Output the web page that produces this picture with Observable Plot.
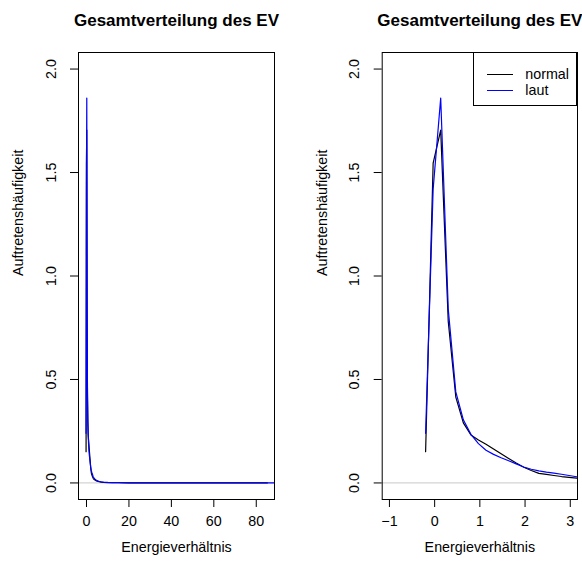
<!DOCTYPE html>
<html>
<head>
<meta charset="utf-8">
<script src="https://cdn.jsdelivr.net/npm/d3@7"></script>
<script src="https://cdn.jsdelivr.net/npm/@observablehq/plot@0.6"></script>
<style>
  body { margin: 0; background: #fff; }
  #wrap { position: relative; width: 582px; height: 570px; overflow: hidden;
          font-family: "Liberation Sans", Arial, Helvetica, sans-serif; }
  #wrap svg { position: absolute; top: 0; }
  .legend { position: absolute; box-sizing: border-box; border: 1px solid #000; background: #fff;
            font-size: 14.3px; color: #000; }
  .legend .row { position: absolute; left: 0; right: 0; height: 16px; }
  .legend .sw { position: absolute; left: 13px; width: 26px; top: 8px; height: 0; border-top: 1.2px solid; }
  .legend .lb { position: absolute; left: 51px; top: 0; line-height: 16px; }
</style>
</head>
<body>
<div id="wrap"></div>
<script>
// ---- text ----
const titleText = "Gesamtverteilung des EV";
const xLabel = "Energieverhältnis";
const yLabel = "Auftretenshäufigkeit";

// ---- series ----
const seriesNames = ["normal", "laut"];
const seriesColors = ["black", "blue"];

// density evaluation points
const xNormal = [-0.2, -0.033, 0.134, 0.301, 0.468, 0.635, 0.802, 0.969, 1.136, 1.303,
  1.47, 1.637, 1.804, 1.971, 2.138, 2.305, 2.472, 2.639, 2.806, 2.973, 3.14, 3.307,
  3.5, 4, 4.5, 5, 6, 7, 8, 10, 12, 15, 20, 25, 30, 40, 50, 60, 70, 80, 85.2];
const yNormal = [0.151, 1.545, 1.705, 0.78, 0.415, 0.29, 0.232, 0.208, 0.187, 0.164,
  0.141, 0.118, 0.096, 0.076, 0.06, 0.046, 0.041, 0.036, 0.031, 0.027, 0.023, 0.02,
  0.018, 0.014, 0.011, 0.009, 0.006, 0.004, 0.003, 0.002, 0.0015, 0.001, 0.0007, 0.0005,
  0.0004, 0.0003, 0.0002, 0.0002, 0.0001, 0.0001, 0.00005];

const xLaut = [-0.2, -0.033, 0.134, 0.301, 0.468, 0.635, 0.802, 0.969, 1.136, 1.303,
  1.47, 1.637, 1.804, 1.971, 2.138, 2.305, 2.472, 2.639, 2.806, 2.973, 3.14, 3.307,
  3.5, 4, 4.5, 5, 6, 7, 8, 10, 12, 15, 20, 25, 30, 40, 50, 60, 70, 80, 90, 95];
const yLaut = [0.24, 1.42, 1.86, 0.84, 0.44, 0.305, 0.235, 0.19, 0.158, 0.138,
  0.122, 0.107, 0.092, 0.077, 0.066, 0.058, 0.052, 0.047, 0.042, 0.036, 0.03, 0.027,
  0.024, 0.018, 0.014, 0.011, 0.007, 0.005, 0.004, 0.0025, 0.0018, 0.0012, 0.0008, 0.0006,
  0.0005, 0.0003, 0.0002, 0.0002, 0.0001, 0.0001, 0.00005, 0.00003];

// ---- ticks ----
const yTicks = [0, 0.5, 1, 1.5, 2];
const xTicksLeft = [0, 20, 40, 60, 80];
const xTicksRight = [-1, 0, 1, 2, 3];

// ---- domains (R: data range + 4%) ----
const yDomain = [-0.08, 2.08];
const xDomainLeft = [-3.77, 88.6];
const xDomainRight = [-1.16, 3.16];

const seriesX = [xNormal, xLaut];
const seriesY = [yNormal, yLaut];
const rows = seriesNames.flatMap((s, i) => seriesX[i].map((x, j) => ({x, y: seriesY[i][j], s})));

const font = '"Liberation Sans", Arial, Helvetica, sans-serif';
const fmtX = d => d < 0 ? "\u2212" + Math.abs(d) : String(d);

function panel({width, marginLeft, marginRight, xDomain, xTicks}) {
  return Plot.plot({
    width, height: 570,
    marginLeft, marginRight, marginTop: 52, marginBottom: 71,
    style: {fontFamily: font, fontSize: "14.3px", background: "transparent", color: "black", overflow: "visible"},
    x: {domain: xDomain},
    y: {domain: yDomain},
    color: {domain: seriesNames, range: seriesColors},
    marks: [
      Plot.ruleY([0], {stroke: "#d3d3d3", strokeWidth: 1.3}),
      Plot.line(rows, {x: "x", y: "y", z: "s", stroke: "s", strokeWidth: 1.2, clip: true}),
      Plot.frame({stroke: "black", strokeWidth: 1}),
      Plot.axisX({ticks: xTicks, tickSize: 8, tickPadding: 8, tickFormat: fmtX, label: null, stroke: "black"}),
      Plot.axisY({ticks: yTicks, tickSize: 8, tickPadding: 15, tickRotate: -90,
                  tickFormat: d3.format(".1f"), label: null, stroke: "black"}),
      Plot.text([xLabel], {frameAnchor: "bottom", dy: 52, text: d => d, fill: "black"}),
      Plot.text([yLabel], {frameAnchor: "left", rotate: -90, dx: -60, text: d => d, fill: "black"}),
      Plot.text([titleText], {frameAnchor: "top", dy: -39, text: d => d, fill: "black",
                              fontWeight: "bold", fontSize: 17})
    ]
  });
}

const wrap = document.getElementById("wrap");
const left = panel({width: 300, marginLeft: 78, marginRight: 26, xDomain: xDomainLeft, xTicks: xTicksLeft});
left.style.left = "0px";
const right = panel({width: 282, marginLeft: 81.7, marginRight: 5, xDomain: xDomainRight, xTicks: xTicksRight});
right.style.left = "300px";
wrap.appendChild(left);
wrap.appendChild(right);

// legend (top-right of right panel)
const legend = document.createElement("div");
legend.className = "legend";
legend.style.left = "473.3px";
legend.style.top = "52px";
legend.style.width = (577 - 473.3) + "px";
legend.style.height = "54px";
seriesNames.forEach((name, i) => {
  const row = document.createElement("div");
  row.className = "row";
  row.style.top = (12.7 + i * 16.6) + "px";
  const sw = document.createElement("div");
  sw.className = "sw";
  sw.style.borderTopColor = seriesColors[i];
  const lb = document.createElement("div");
  lb.className = "lb";
  lb.textContent = name;
  row.appendChild(sw);
  row.appendChild(lb);
  legend.appendChild(row);
});
wrap.appendChild(legend);
</script>
</body>
</html>
